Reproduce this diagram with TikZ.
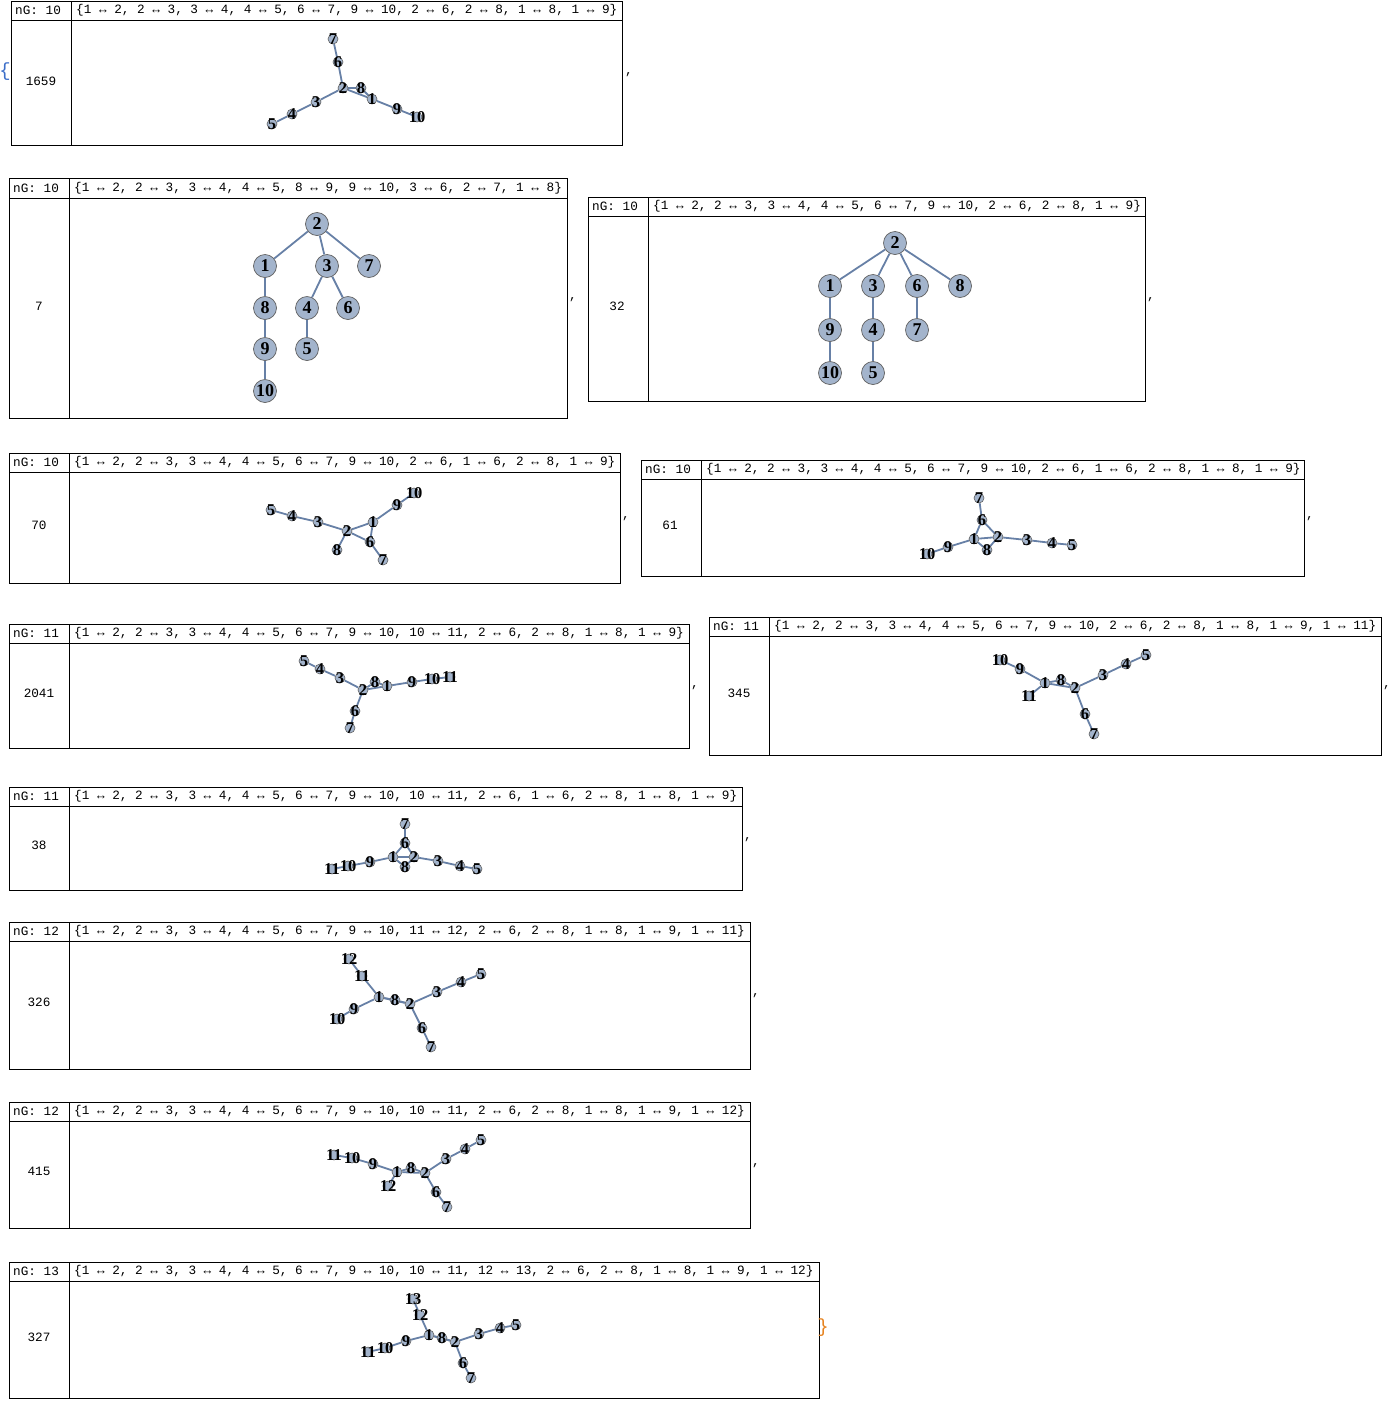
\documentclass[tikz,border=0pt]{standalone}
\usepackage{fontspec}
\setmainfont{Liberation Serif}
\setmonofont{Liberation Mono}
\usetikzlibrary{backgrounds}

\definecolor{vfill}{RGB}{163,180,204}
\definecolor{vline}{RGB}{95,95,95}
\definecolor{ecol}{RGB}{103,128,166}
\definecolor{bra}{RGB}{60,110,200}
\definecolor{ket}{RGB}{230,130,30}

\newcommand\monotext{\ttfamily\fontsize{12.7}{14}\selectfont}
\newcommand\vlabel{\rmfamily\bfseries\fontsize{16.5}{16.5}\selectfont}
\newcommand\vlabelbig{\rmfamily\bfseries\fontsize{18}{18}\selectfont}

\tikzset{
  frame/.style={draw=black, line width=0.9pt},
  mono/.style={font=\monotext, inner sep=0pt},
  head/.style={mono, anchor=west},
  vtx/.style={circle, fill=vfill, draw=vline, line width=0.6pt, minimum size=10pt,
    inner sep=0pt, label={[font=\vlabel, inner sep=0pt]center:#1}},
  bigvtx/.style={circle, fill=vfill, draw=vline, line width=0.7pt, minimum size=23pt,
    inner sep=0pt, font=\vlabelbig},
  edge/.style={draw=ecol, line width=1.8pt},
}

\begin{document}
\begin{tikzpicture}[x=1pt,y=-1pt]
\useasboundingbox (0,0) rectangle (1393,1401);

\node[mono, font=\ttfamily\fontsize{19}{19}\selectfont, text=bra] (open) at (5,72) {\{};

% 1659
\draw[frame] (11,1) rectangle (622,145);
\draw[frame] (11,20) -- (622,20) (71,1) -- (71,145);
\node[head] (ha) at (15,10.5) {nG: 10};
\node[head] (ea) at (76,10.5) {\{1 ↔ 2, 2 ↔ 3, 3 ↔ 4, 4 ↔ 5, 6 ↔ 7, 9 ↔ 10, 2 ↔ 6, 2 ↔ 8, 1 ↔ 8, 1 ↔ 9\}};
\node[mono] (na) at (41,81) {1659};
\node[mono] (ca) at (629,75) {,};
\foreach \n/\x/\y in {7/333/39, 6/338/62, 2/343/88, 8/361/88, 1/372/99, 9/397/109,
  10/417/117, 3/316/102, 4/292/114, 5/272/124}
  \node[vtx=\n] (a\n) at (\x,\y) {};
\begin{scope}[on background layer]
\foreach \a/\b in {1/2, 2/3, 3/4, 4/5, 6/7, 9/10, 2/6, 2/8, 1/8, 1/9}
  \draw[edge] (a\a) -- (a\b);
\end{scope}

% 7
\draw[frame] (9,178) rectangle (567,418);
\draw[frame] (9,198) -- (567,198) (69,178) -- (69,418);
\node[head] (hb) at (13,188) {nG: 10};
\node[head] (eb) at (74,188) {\{1 ↔ 2, 2 ↔ 3, 3 ↔ 4, 4 ↔ 5, 8 ↔ 9, 9 ↔ 10, 3 ↔ 6, 2 ↔ 7, 1 ↔ 8\}};
\node[mono] (nb) at (39,306) {7};
\node[mono] (cb) at (573,300) {,};
\foreach \n/\x/\y in {2/317/224, 1/265/266, 3/327/266, 7/369/266, 8/265/308,
  4/307/308, 6/348/308, 9/265/349, 5/307/349, 10/265/391}
  \node[bigvtx] (b\n) at (\x,\y) {\n};
\foreach \a/\b in {1/2, 2/3, 3/4, 4/5, 8/9, 9/10, 3/6, 2/7, 1/8}
  \draw[edge] (b\a) -- (b\b);

% 32
\draw[frame] (588,197) rectangle (1145,401);
\draw[frame] (588,216) -- (1145,216) (648,197) -- (648,401);
\node[head] (hc) at (592,206.5) {nG: 10};
\node[head] (ec) at (653,206.5) {\{1 ↔ 2, 2 ↔ 3, 3 ↔ 4, 4 ↔ 5, 6 ↔ 7, 9 ↔ 10, 2 ↔ 6, 2 ↔ 8, 1 ↔ 9\}};
\node[mono] (nc) at (617,306) {32};
\node[mono] (cc) at (1151,300) {,};
\foreach \n/\x/\y in {2/895/243, 1/830/286, 3/873/286, 6/917/286, 8/960/286,
  9/830/330, 4/873/330, 7/917/330, 10/830/373, 5/873/373}
  \node[bigvtx] (c\n) at (\x,\y) {\n};
\foreach \a/\b in {1/2, 2/3, 3/4, 4/5, 6/7, 9/10, 2/6, 2/8, 1/9}
  \draw[edge] (c\a) -- (c\b);

% 70
\draw[frame] (9,453) rectangle (620,583);
\draw[frame] (9,472) -- (620,472) (69,453) -- (69,583);
\node[head] (hd) at (13,462.5) {nG: 10};
\node[head] (ed) at (74,462.5) {\{1 ↔ 2, 2 ↔ 3, 3 ↔ 4, 4 ↔ 5, 6 ↔ 7, 9 ↔ 10, 2 ↔ 6, 1 ↔ 6, 2 ↔ 8, 1 ↔ 9\}};
\node[mono] (nd) at (39,525) {70};
\node[mono] (cd) at (626,519) {,};
\foreach \n/\x/\y in {5/271/510, 4/292/516, 3/318/522, 2/347/531, 1/373/522,
  9/397/505, 10/414/493, 6/370/542, 7/383/560, 8/337/550}
  \node[vtx=\n] (d\n) at (\x,\y) {};
\begin{scope}[on background layer]
\foreach \a/\b in {1/2, 2/3, 3/4, 4/5, 6/7, 9/10, 2/6, 1/6, 2/8, 1/9}
  \draw[edge] (d\a) -- (d\b);
\end{scope}

% 61
\draw[frame] (641,460) rectangle (1304,576);
\draw[frame] (641,479) -- (1304,479) (701,460) -- (701,576);
\node[head] (he) at (645,469.5) {nG: 10};
\node[head] (ee) at (706,469.5) {\{1 ↔ 2, 2 ↔ 3, 3 ↔ 4, 4 ↔ 5, 6 ↔ 7, 9 ↔ 10, 2 ↔ 6, 1 ↔ 6, 2 ↔ 8, 1 ↔ 8, 1 ↔ 9\}};
\node[mono] (ne) at (670,525) {61};
\node[mono] (ce) at (1310,519) {,};
\foreach \n/\x/\y in {7/979/498, 6/982/520, 1/974/539, 2/998/537, 8/987/550,
  3/1027/540, 4/1052/543, 5/1072/545, 9/948/547, 10/927/554}
  \node[vtx=\n] (e\n) at (\x,\y) {};
\begin{scope}[on background layer]
\foreach \a/\b in {1/2, 2/3, 3/4, 4/5, 6/7, 9/10, 2/6, 1/6, 2/8, 1/8, 1/9}
  \draw[edge] (e\a) -- (e\b);
\end{scope}

% 2041
\draw[frame] (9,624) rectangle (689,748);
\draw[frame] (9,643) -- (689,643) (69,624) -- (69,748);
\node[head] (hf) at (13,633.5) {nG: 11};
\node[head] (ef) at (74,633.5) {\{1 ↔ 2, 2 ↔ 3, 3 ↔ 4, 4 ↔ 5, 6 ↔ 7, 9 ↔ 10, 10 ↔ 11, 2 ↔ 6, 2 ↔ 8, 1 ↔ 8, 1 ↔ 9\}};
\node[mono] (nf) at (39,693) {2041};
\node[mono] (cf) at (695,688) {,};
\foreach \n/\x/\y in {5/304/661, 4/320/669, 3/340/678, 2/363/690, 8/375/682,
  1/387/686, 9/412/682, 10/432/679, 11/450/677, 6/355/711, 7/350/728}
  \node[vtx=\n] (f\n) at (\x,\y) {};
\begin{scope}[on background layer]
\foreach \a/\b in {1/2, 2/3, 3/4, 4/5, 6/7, 9/10, 10/11, 2/6, 2/8, 1/8, 1/9}
  \draw[edge] (f\a) -- (f\b);
\end{scope}

% 345
\draw[frame] (709,617) rectangle (1381,755);
\draw[frame] (709,636) -- (1381,636) (769,617) -- (769,755);
\node[head] (hg) at (713,626.5) {nG: 11};
\node[head] (eg) at (774,626.5) {\{1 ↔ 2, 2 ↔ 3, 3 ↔ 4, 4 ↔ 5, 6 ↔ 7, 9 ↔ 10, 2 ↔ 6, 2 ↔ 8, 1 ↔ 8, 1 ↔ 9, 1 ↔ 11\}};
\node[mono] (ng) at (739,693) {345};
\node[mono] (cg) at (1387,688) {,};
\foreach \n/\x/\y in {10/1000/660, 9/1020/669, 1/1045/683, 8/1061/680, 2/1075/688,
  11/1029/696, 3/1103/675, 4/1126/664, 5/1146/655, 6/1085/714, 7/1094/734}
  \node[vtx=\n] (g\n) at (\x,\y) {};
\begin{scope}[on background layer]
\foreach \a/\b in {1/2, 2/3, 3/4, 4/5, 6/7, 9/10, 2/6, 2/8, 1/8, 1/9, 1/11}
  \draw[edge] (g\a) -- (g\b);
\end{scope}

% 38
\draw[frame] (9,787) rectangle (742,890);
\draw[frame] (9,806) -- (742,806) (69,787) -- (69,890);
\node[head] (hh) at (13,796.5) {nG: 11};
\node[head] (eh) at (74,796.5) {\{1 ↔ 2, 2 ↔ 3, 3 ↔ 4, 4 ↔ 5, 6 ↔ 7, 9 ↔ 10, 10 ↔ 11, 2 ↔ 6, 1 ↔ 6, 2 ↔ 8, 1 ↔ 8, 1 ↔ 9\}};
\node[mono] (nh) at (39,845) {38};
\node[mono] (ch) at (748,840) {,};
\foreach \n/\x/\y in {7/405/824, 6/405/843, 1/393/857, 2/414/857, 8/405/867,
  3/438/861, 4/460/866, 5/477/869, 9/370/862, 10/348/866, 11/332/869}
  \node[vtx=\n] (h\n) at (\x,\y) {};
\begin{scope}[on background layer]
\foreach \a/\b in {1/2, 2/3, 3/4, 4/5, 6/7, 9/10, 10/11, 2/6, 1/6, 2/8, 1/8, 1/9}
  \draw[edge] (h\a) -- (h\b);
\end{scope}

% 326
\draw[frame] (9,922) rectangle (750,1069);
\draw[frame] (9,941) -- (750,941) (69,922) -- (69,1069);
\node[head] (hi) at (13,931.5) {nG: 12};
\node[head] (ei) at (74,931.5) {\{1 ↔ 2, 2 ↔ 3, 3 ↔ 4, 4 ↔ 5, 6 ↔ 7, 9 ↔ 10, 11 ↔ 12, 2 ↔ 6, 2 ↔ 8, 1 ↔ 8, 1 ↔ 9, 1 ↔ 11\}};
\node[mono] (ni) at (39,1002) {326};
\node[mono] (ci) at (756,996) {,};
\foreach \n/\x/\y in {12/349/959, 11/362/976, 1/379/997, 8/395/1000, 2/410/1004,
  3/437/992, 4/461/982, 5/481/974, 9/354/1009, 10/337/1019, 6/422/1028, 7/431/1047}
  \node[vtx=\n] (i\n) at (\x,\y) {};
\begin{scope}[on background layer]
\foreach \a/\b in {1/2, 2/3, 3/4, 4/5, 6/7, 9/10, 11/12, 2/6, 2/8, 1/8, 1/9, 1/11}
  \draw[edge] (i\a) -- (i\b);
\end{scope}

% 415
\draw[frame] (9,1102) rectangle (750,1228);
\draw[frame] (9,1121) -- (750,1121) (69,1102) -- (69,1228);
\node[head] (hj) at (13,1111.5) {nG: 12};
\node[head] (ej) at (74,1111.5) {\{1 ↔ 2, 2 ↔ 3, 3 ↔ 4, 4 ↔ 5, 6 ↔ 7, 9 ↔ 10, 10 ↔ 11, 2 ↔ 6, 2 ↔ 8, 1 ↔ 8, 1 ↔ 9, 1 ↔ 12\}};
\node[mono] (nj) at (39,1171) {415};
\node[mono] (cj) at (756,1166) {,};
\foreach \n/\x/\y in {11/334/1155, 10/352/1158, 9/373/1164, 1/397/1172, 8/411/1168,
  2/425/1173, 3/446/1159, 4/465/1149, 5/481/1140, 12/388/1186, 6/436/1192, 7/447/1207}
  \node[vtx=\n] (j\n) at (\x,\y) {};
\begin{scope}[on background layer]
\foreach \a/\b in {1/2, 2/3, 3/4, 4/5, 6/7, 9/10, 10/11, 2/6, 2/8, 1/8, 1/9, 1/12}
  \draw[edge] (j\a) -- (j\b);
\end{scope}

% 327
\draw[frame] (9,1262) rectangle (819,1398);
\draw[frame] (9,1281) -- (819,1281) (69,1262) -- (69,1398);
\node[head] (hk) at (13,1271.5) {nG: 13};
\node[head] (ek) at (74,1271.5) {\{1 ↔ 2, 2 ↔ 3, 3 ↔ 4, 4 ↔ 5, 6 ↔ 7, 9 ↔ 10, 10 ↔ 11, 12 ↔ 13, 2 ↔ 6, 2 ↔ 8, 1 ↔ 8, 1 ↔ 9, 1 ↔ 12\}};
\node[mono] (nk) at (39,1337) {327};
\foreach \n/\x/\y in {13/413/1299, 12/420/1315, 1/429/1335, 8/442/1338, 2/455/1342,
  3/479/1334, 4/500/1328, 5/516/1325, 9/406/1341, 10/385/1348, 11/368/1352,
  6/463/1363, 7/471/1378}
  \node[vtx=\n] (k\n) at (\x,\y) {};
\begin{scope}[on background layer]
\foreach \a/\b in {1/2, 2/3, 3/4, 4/5, 6/7, 9/10, 10/11, 12/13, 2/6, 2/8, 1/8, 1/9, 1/12}
  \draw[edge] (k\a) -- (k\b);
\end{scope}

\node[mono, font=\ttfamily\fontsize{19}{19}\selectfont, text=ket] (close) at (823,1328) {\}};

\end{tikzpicture}
\end{document}
